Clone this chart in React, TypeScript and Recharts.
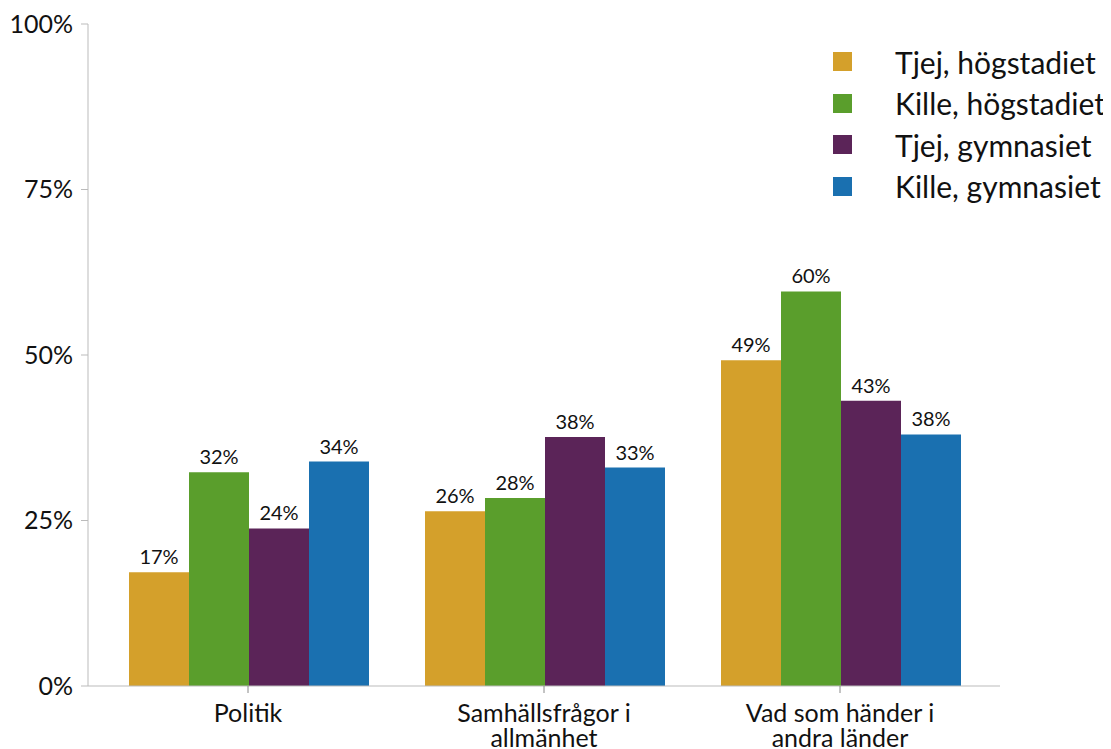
import React from "react";
import { BarChart, Bar, XAxis, YAxis, LabelList } from "recharts";

const categories = ["Politik", "Samhällsfrågor i allmänhet", "Vad som händer i andra länder"];
const tjejHog = [17.2, 26.4, 49.2];
const killeHog = [32.3, 28.4, 59.6];
const tjejGym = [23.8, 37.6, 43.1];
const killeGym = [33.9, 33.0, 38.0];
const yTicks = [0, 25, 50, 75, 100];

const series = [
  { key: "tjejHog", name: "Tjej, högstadiet", color: "#D4A02B" },
  { key: "killeHog", name: "Kille, högstadiet", color: "#5A9E2C" },
  { key: "tjejGym", name: "Tjej, gymnasiet", color: "#5B2458" },
  { key: "killeGym", name: "Kille, gymnasiet", color: "#1A70B0" },
];

const data = categories.map((name, i) => ({
  name,
  tjejHog: tjejHog[i],
  killeHog: killeHog[i],
  tjejGym: tjejGym[i],
  killeGym: killeGym[i],
}));

const font = "Lato, 'Noto Sans', sans-serif";

// greedy word wrap, max ~17 chars per line
const wrap = (s: string, max = 17) => {
  const lines: string[] = [];
  let cur = "";
  s.split(" ").forEach((w) => {
    const next = cur ? cur + " " + w : w;
    if (next.length > max && cur) {
      lines.push(cur);
      cur = w;
    } else cur = next;
  });
  if (cur) lines.push(cur);
  return lines;
};

const XTick = (props: any) => {
  const { x, y, payload } = props;
  return (
    <text x={x} y={y + 27} textAnchor="middle" fontSize={25} fontFamily={font} fill="#111">
      {wrap(payload.value).map((l, i) => (
        <tspan key={i} x={x} dy={i === 0 ? 0 : 25}>
          {l}
        </tspan>
      ))}
    </text>
  );
};

// legend drawn as plain html next to the chart
const LegendBox = () => (
  <div style={{ position: "absolute", left: 825, top: 33, fontFamily: font, fontSize: 30, color: "#111" }}>
    {series.map((s) => (
      <div key={s.key} style={{ display: "flex", alignItems: "center", height: 41.5 }}>
        <span style={{ width: 19, height: 19, background: s.color, display: "inline-block", marginRight: 43 }} />
        <span style={{ whiteSpace: "nowrap" }}>{s.name}</span>
      </div>
    ))}
  </div>
);

const App = () => {
  return (
    <div style={{ position: "relative", width: 1103, height: 741 }}>
      <BarChart
        width={1103}
        height={741}
        data={data}
        margin={{ top: 16, right: 111, left: 0, bottom: 0 }}
        barCategoryGap={29}
        barGap={0}
      >
        <XAxis
          dataKey="name"
          height={63}
          padding={{ left: 12, right: 12 }}
          stroke="#bbb"
          tickLine={{ stroke: "#888" }}
          tickSize={7}
          tick={<XTick />}
          interval={0}
        />
        <YAxis
          width={80}
          domain={[0, 100]}
          ticks={yTicks}
          tickFormatter={(v: number) => `${v}%`}
          stroke="#bbb"
          tickSize={7}
          tickMargin={8}
          tick={{ fontSize: 25, fill: "#111", fontFamily: font }}
        />
        {series.map((s) => (
          <Bar key={s.key} dataKey={s.key} name={s.name} fill={s.color} isAnimationActive={false}>
            <LabelList
              dataKey={s.key}
              position="top"
              offset={8}
              formatter={(v: number) => `${Math.round(v)}%`}
              style={{ fontSize: 20, fill: "#111", fontFamily: font }}
            />
          </Bar>
        ))}
      </BarChart>
      <LegendBox />
    </div>
  );
};

export default App;
